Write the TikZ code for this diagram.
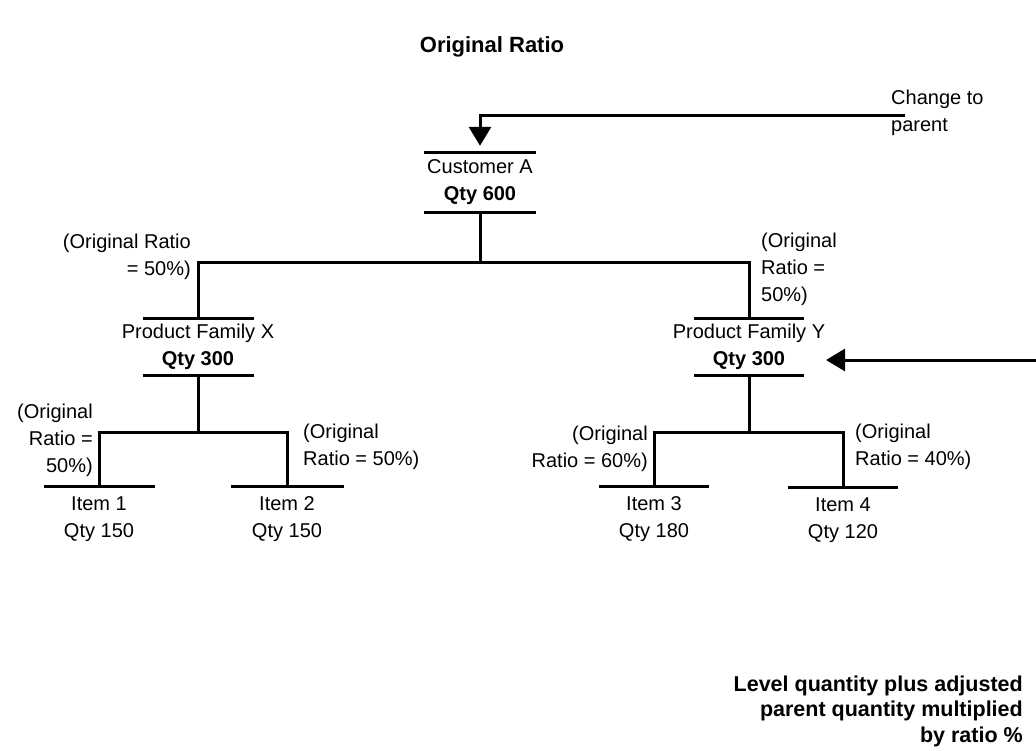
\documentclass[tikz,border=0pt]{standalone}
\usepackage{fontspec}
\setmainfont{Liberation Sans}
\usetikzlibrary{arrows.meta}
\begin{document}
\begin{tikzpicture}[x=1pt,y=-1pt,
  txt/.style={font=\fontsize{20}{27}\selectfont, inner sep=0pt},
  lbl/.style={txt, align=#1},
  barbox/.style={txt, align=center,
    append after command={
      ([xshift=-#1pt]\tikzlastnode.north) edge[conn] ([xshift=#1pt]\tikzlastnode.north)
      ([xshift=-#1pt]\tikzlastnode.south) edge[conn] ([xshift=#1pt]\tikzlastnode.south)}},
  topbar/.style={txt, align=center, minimum height=64pt,
    append after command={
      ([xshift=-#1pt]\tikzlastnode.north) edge[conn] ([xshift=#1pt]\tikzlastnode.north)}},
  conn/.style={draw=black, line width=3pt},
  arr/.style={conn, -{Triangle[length=19pt,width=22pt]}},
]
\useasboundingbox (0,0) rectangle (1036,750);

% title
\node[txt, font=\fontsize{22}{27}\selectfont\bfseries] (title) at (492,47) {Original Ratio};

% boxes
\node[barbox=56, minimum height=59pt] (cA) at (480,182.5) {Customer A\\\textbf{Qty 600}};
\node[barbox=55.5, minimum height=56pt] (pfx) at (198,347) {Product Family X\\\textbf{Qty 300}};
\node[barbox=55, minimum height=56pt] (pfy) at (749,347) {Product Family Y\\\textbf{Qty 300}};

\node[topbar=55.5] (i1) at (99,519) {Item 1\\Qty 150};
\node[topbar=56.5] (i2) at (287,519) {Item 2\\Qty 150};
\node[topbar=55] (i3) at (654,519) {Item 3\\Qty 180};
\node[topbar=55] (i4) at (843,520) {Item 4\\Qty 120};

% change to parent
\node[lbl=left, anchor=west] (chg) at (891,113) {Change to\\parent};
\coordinate (ctop) at (905,115);
\draw[arr, shorten >=7pt] (ctop) -| (cA.north);

% right incoming arrow
\coordinate (rin) at (1036,360);
\draw[arr, shorten >=77pt] (rin) -- (rin -| pfy.center);

% tree connectors
\coordinate (jA) at ([yshift=-50pt]cA.south);
\draw[conn] (cA.south) -- (jA) -| (pfx.north);
\draw[conn] (jA) -| (pfy.north);

\coordinate (jX) at ([yshift=-57pt]pfx.south);
\draw[conn] (pfx.south) -- (jX) -| (i1.north);
\draw[conn] (jX) -| (i2.north);

\coordinate (jY) at ([yshift=-57pt]pfy.south);
\draw[conn] (pfy.south) -- (jY) -| (i3.north);
\draw[conn] (jY) -| (i4.north);

% ratio labels
\node[lbl=right, anchor=east] (lx) at (191,257) {(Original Ratio\\= 50\%)};
\node[lbl=left, anchor=west] (ly) at (761,269) {(Original\\Ratio =\\50\%)};
\node[lbl=right, anchor=east] (l1) at (93,440) {(Original\\Ratio =\\50\%)};
\node[lbl=left, anchor=west] (l2) at (303,447) {(Original\\Ratio = 50\%)};
\node[lbl=right, anchor=east] (l3) at (648,449) {(Original\\Ratio = 60\%)};
\node[lbl=left, anchor=west] (l4) at (855,447) {(Original\\Ratio = 40\%)};

% note
\node[lbl=right, anchor=east, font=\fontsize{21.5}{25.5}\selectfont\bfseries] (note) at (1023,711)
  {Level quantity plus adjusted\\parent quantity multiplied\\by ratio \%};
\end{tikzpicture}
\end{document}
